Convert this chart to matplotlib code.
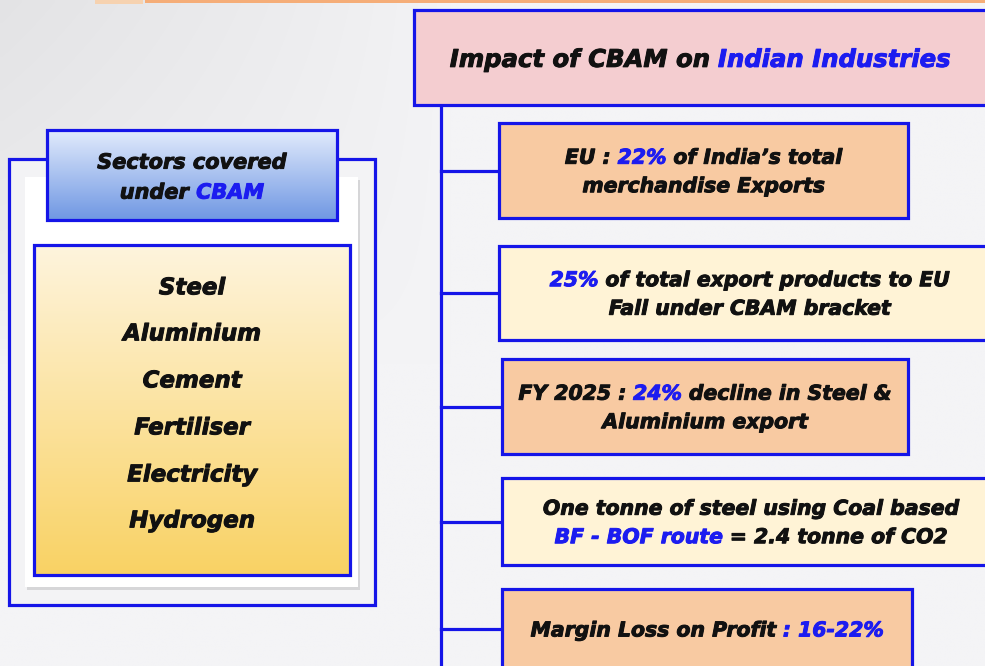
import matplotlib.pyplot as plt
import matplotlib.patheffects as pe
from matplotlib.colors import to_rgb
from matplotlib.patches import Rectangle
import numpy as np

BLACK = "#111111"
BLUE = "#1c1cf0"
EDGE = "#1515e8"
FONT = "DejaVu Sans"

# text content
sectors_title = [[("Sectors covered", BLACK)],
                 [("under ", BLACK), ("CBAM", BLUE)]]
sectors = ["Steel", "Aluminium", "Cement", "Fertiliser", "Electricity", "Hydrogen"]

impact_title = [("Impact of CBAM on ", BLACK), ("Indian Industries", BLUE)]
impacts = [
    [[("EU : ", BLACK), ("22%", BLUE), (" of India\u2019s total", BLACK)],
     [("merchandise Exports", BLACK)]],
    [[("25%", BLUE), (" of total export products to EU", BLACK)],
     [("Fall under CBAM bracket", BLACK)]],
    [[("FY 2025 : ", BLACK), ("24%", BLUE), (" decline in Steel &", BLACK)],
     [("Aluminium export", BLACK)]],
    [[("One tonne of steel using Coal based", BLACK)],
     [("BF - BOF route", BLUE), (" = 2.4 tonne of CO2", BLACK)]],
    [[("Margin Loss on Profit", BLACK), (" : 16-22%", BLUE)]],
]
impact_fills = ["#f8caa2", "#fff3d6", "#f8caa2", "#fff3d6", "#f8caa2"]

fig = plt.figure(figsize=(9.85, 6.66), dpi=100)
ax = fig.add_axes([0, 0, 1, 1])
ax.set_xlim(0, 985)
ax.set_ylim(666, 0)
ax.axis("off")
renderer = fig.canvas.get_renderer()


def text_width(s, size):
    t = ax.text(0, 0, s, fontsize=size, fontweight="bold", fontstyle="italic", family=FONT)
    w = t.get_window_extent(renderer).width
    t.remove()
    return w


def rich_line(xc, yc, parts, size):
    sp = text_width("a a", size) - text_width("aa", size)
    widths = []
    for s, c in parts:
        w = text_width(s.strip(), size) if s.strip() else 0
        w += sp * ((len(s) - len(s.lstrip())) + (len(s) - len(s.rstrip())))
        widths.append(w)
    x = xc - sum(widths) / 2
    yb = yc + 0.365 * size / 0.72
    for (s, c), w in zip(parts, widths):
        lead = len(s) - len(s.lstrip())
        ax.text(x + lead * sp, yb, s.strip(), color=c, fontsize=size, fontweight="bold",
                fontstyle="italic", family=FONT, va="baseline", ha="left", zorder=10,
                path_effects=[pe.withStroke(linewidth=0.7, foreground=c)])
        x += w


def gradient_box(x0, y0, x1, y1, top, bottom, z):
    c0 = np.array(to_rgb(top))
    c1 = np.array(to_rgb(bottom))
    g = np.linspace(0, 1, 200)[:, None, None]
    ax.imshow(c0 + (c1 - c0) * g, extent=(x0, x1, y1, y0), origin="upper",
              aspect="auto", zorder=z)
    ax.add_patch(Rectangle((x0, y0), x1 - x0, y1 - y0, fill=False, ec=EDGE, lw=2.3, zorder=z + 0.5))


# background: light grey, darker towards the top-left
xx, yy = np.meshgrid(np.linspace(0, 985, 200), np.linspace(0, 666, 140))
shade = np.clip(1 - xx / 450, 0, 1) ** 0.8 * np.clip(1 - yy / 360, 0, 1) ** 0.6
base = np.array(to_rgb("#f4f4f6"))
bg = base[None, None, :] - 0.065 * shade[:, :, None]
ax.imshow(bg, extent=(0, 985, 666, 0), origin="upper", aspect="auto",
          interpolation="bilinear", zorder=0)
ax.add_patch(Rectangle((145, 0), 840, 3, color="#f5ad78", lw=0, zorder=1))
ax.add_patch(Rectangle((95, 0), 48, 4, color="#f6d2b0", lw=0, zorder=1))

# left panel
ax.add_patch(Rectangle((9, 159), 366, 446, fc="#f3f3f5", ec=EDGE, lw=2.3, zorder=2))
ax.add_patch(Rectangle((27, 180), 333, 410, color="#d6d6d8", lw=0, zorder=2.5))
ax.add_patch(Rectangle((25, 177), 333, 410, color="white", lw=0, zorder=3))
gradient_box(47, 130, 337, 220, "#e2ebfc", "#6f97e3", 4)
gradient_box(34, 245, 350, 575, "#fef4dd", "#f9d264", 4)

for i, line in enumerate(sectors_title):
    rich_line(192, 161 + 30 * i, line, 15.0)

sector_y = [286, 332, 379, 426, 473, 519]
for name, y in zip(sectors, sector_y):
    rich_line(192, y, [(name, BLACK)], 16.5)

# right panel
ax.plot([441, 441], [105, 666], color=EDGE, lw=2.3, zorder=2)
ax.add_patch(Rectangle((414, 10), 600, 95, fc="#f4cdd0", ec=EDGE, lw=2.3, zorder=3))
rich_line(700, 58, impact_title, 17.5)

boxes = [(499, 123, 908, 218), (499, 246, 1010, 340), (502, 359, 908, 454),
         (502, 478, 1010, 565), (502, 589, 912, 690)]
for (x0, y0, x1, y1), fill, lines in zip(boxes, impact_fills, impacts):
    yc = (y0 + y1) / 2 if y1 < 666 else 629
    ax.plot([441, x0], [yc, yc], color=EDGE, lw=2.3, zorder=2)
    ax.add_patch(Rectangle((x0, y0), x1 - x0, y1 - y0, fc=fill, ec=EDGE, lw=2.3, zorder=3))
    xc = (x0 + min(x1, 1000)) / 2
    n = len(lines)
    for j, line in enumerate(lines):
        rich_line(xc, yc + (j - (n - 1) / 2) * 28.5, line, 14.7)

fig.savefig("out.png", dpi=100)
